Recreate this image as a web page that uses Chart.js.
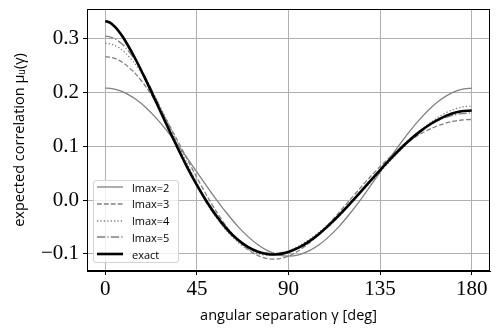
<!DOCTYPE html>
<html lang="en">
<head>
<meta charset="UTF-8" />
<title>Expected correlation vs angular separation</title>
<script src="https://cdn.jsdelivr.net/npm/chart.js"></script>
<style>
  html, body { margin: 0; padding: 0; background: #fff; }
  #wrap { position: relative; width: 499px; height: 332px; }
  #legend {
    position: absolute; left: 93px; top: 180px; width: 86px; height: 83px;
    box-sizing: border-box; border: 1px solid #d4d4d4; border-radius: 3px;
    background: rgba(255,255,255,0.8);
    font-family: "Open Sans", sans-serif; font-size: 11px; color: #000;
  }
  .row { position: absolute; left: 0; height: 16px; display: flex; align-items: center; white-space: nowrap; }
  .row svg { margin-left: 3px; }
  .row span { margin-left: 9px; }
</style>
</head>
<body>
<div id="wrap">
  <canvas id="chart" width="499" height="332"></canvas>
  <div id="legend"></div>
</div>
<script>
// angular separation (deg)
const gammaDeg = [0,2.5,5,7.5,10,15,20,25,30,35,40,45,50,55,60,65,70,75,80,85,90,
  95,100,105,110,115,120,125,130,135,140,145,150,155,160,165,170,175,180];

const lmax2 = [0.2083,0.2077,0.2060,0.2030,0.1989,0.1874,0.1718,0.1525,0.1302,0.1055,0.0792,0.0521,0.0250,-0.0014,-0.0260,-0.0484,-0.0676,-0.0832,-0.0947,-0.1018,-0.1042,
  -0.1018,-0.0947,-0.0832,-0.0676,-0.0484,-0.0260,-0.0014,0.0250,0.0521,0.0792,0.1055,0.1302,0.1525,0.1718,0.1874,0.1989,0.2060,0.2083];
const lmax3 = [0.2667,0.2657,0.2630,0.2584,0.2520,0.2343,0.2106,0.1818,0.1492,0.1140,0.0777,0.0418,0.0074,-0.0240,-0.0516,-0.0743,-0.0917,-0.1034,-0.1092,-0.1093,-0.1042,
  -0.0943,-0.0803,-0.0631,-0.0435,-0.0224,-0.0005,0.0213,0.0425,0.0624,0.0807,0.0970,0.1113,0.1233,0.1330,0.1405,0.1458,0.1490,0.1500];
const lmax4 = [0.2917,0.2905,0.2870,0.2813,0.2734,0.2514,0.2224,0.1879,0.1497,0.1097,0.0698,0.0316,-0.0033,-0.0337,-0.0588,-0.0782,-0.0918,-0.0998,-0.1025,-0.1007,-0.0948,
  -0.0856,-0.0737,-0.0595,-0.0436,-0.0263,-0.0077,0.0117,0.0318,0.0522,0.0727,0.0928,0.1119,0.1294,0.1449,0.1576,0.1671,0.1730,0.1750];
const lmax5 = [0.3048,0.3034,0.2994,0.2927,0.2836,0.2586,0.2260,0.1880,0.1468,0.1049,0.0643,0.0267,-0.0066,-0.0348,-0.0576,-0.0751,-0.0875,-0.0953,-0.0988,-0.0986,-0.0948,
  -0.0877,-0.0773,-0.0640,-0.0479,-0.0294,-0.0089,0.0128,0.0351,0.0572,0.0782,0.0976,0.1148,0.1294,0.1413,0.1504,0.1569,0.1607,0.1619];
const exact = [0.3333,0.3296,0.3211,0.3093,0.2950,0.2611,0.2227,0.1821,0.1411,0.1010,0.0628,0.0276,-0.0041,-0.0317,-0.0549,-0.0735,-0.0872,-0.0963,-0.1007,-0.1007,-0.0966,
  -0.0886,-0.0773,-0.0630,-0.0462,-0.0275,-0.0074,0.0135,0.0348,0.0559,0.0763,0.0955,0.1131,0.1287,0.1420,0.1526,0.1604,0.1651,0.1667];

const seriesLabels = ['lmax=2', 'lmax=3', 'lmax=4', 'lmax=5', 'exact'];

const xTicks = [0, 45, 90, 135, 180];
const xTickLabels = ['0', '45', '90', '135', '180'];
const yTicks = [-0.1, 0, 0.1, 0.2, 0.3];
const yTickLabels = ['\u22120.1', '0.0', '0.1', '0.2', '0.3'];

// line styles
const styles = [
  { color: '#808080', width: 1.3, dash: [] },
  { color: '#808080', width: 1.3, dash: [4.8, 2.1] },
  { color: '#808080', width: 1.3, dash: [1.3, 2.1] },
  { color: '#808080', width: 1.3, dash: [8.3, 2.1, 1.3, 2.1] },
  { color: '#000000', width: 2.6, dash: [] }
];

const allSeries = [lmax2, lmax3, lmax4, lmax5, exact];

const datasets = allSeries.map((vals, i) => ({
  label: seriesLabels[i],
  data: gammaDeg.map((g, k) => ({ x: g, y: vals[k] })),
  borderColor: styles[i].color,
  borderWidth: styles[i].width,
  borderDash: styles[i].dash,
  order: i === 4 ? 0 : 5 - i,
  fill: false
}));

const frame = {
  id: 'frame',
  afterDraw(c) {
    const { ctx, chartArea: a } = c;
    ctx.save();
    ctx.strokeStyle = '#000';
    ctx.lineWidth = 1;
    const l = Math.round(a.left) + 0.5, t = Math.round(a.top) + 0.5;
    const r = Math.round(a.right) - 0.5, b = Math.round(a.bottom) - 0.5;
    ctx.strokeRect(l, t, r - l, b - t);
    ctx.restore();
  }
};

const tickFont = { family: '"Liberation Serif", serif', size: 21 };
const titleFont = { family: '"Open Sans", sans-serif', size: 14.5 };

new Chart(document.getElementById('chart').getContext('2d'), {
  type: 'line',
  data: { datasets },
  plugins: [frame],
  options: {
    responsive: false,
    animation: false,
    layout: { padding: { left: 0, top: 9, right: 9, bottom: 0 } },
    plugins: { legend: { display: false }, tooltip: { enabled: false } },
    elements: { point: { radius: 0 }, line: { tension: 0.3 } },
    scales: {
      x: {
        type: 'linear', min: -9, max: 189,
        afterFit: s => { s.height = 61; s.paddingLeft = 0; s.paddingRight = 0; },
        afterBuildTicks: s => { s.ticks = xTicks.map(v => ({ value: v })); },
        ticks: { font: tickFont, color: '#000', padding: 2, maxRotation: 0,
                 callback: (v, i) => xTickLabels[i] },
        grid: { color: '#b0b0b0', tickColor: '#000', tickLength: 4, lineWidth: 1 },
        border: { display: true, color: '#000' },
        title: { display: true, text: 'angular separation \u03b3 [deg]', font: titleFont,
                 color: '#000', padding: { top: 0, bottom: 7 } }
      },
      y: {
        type: 'linear', min: -0.132, max: 0.3555,
        afterFit: s => { s.width = 87; s.paddingTop = 0; s.paddingBottom = 0; },
        afterBuildTicks: s => { s.ticks = yTicks.map(v => ({ value: v })); },
        ticks: { font: tickFont, color: '#000', padding: 4,
                 callback: (v, i) => yTickLabels[i] },
        grid: { color: '#b0b0b0', tickColor: '#000', tickLength: 4, lineWidth: 1 },
        border: { display: true, color: '#000' },
        title: { display: true, text: 'expected correlation \u03bc\u1d64(\u03b3)', font: titleFont,
                 color: '#000', padding: { top: 11, bottom: 0 } }
      }
    }
  }
});

// legend inside the plot, built from the same labels and styles
const legend = document.getElementById('legend');
seriesLabels.forEach((lab, i) => {
  const row = document.createElement('div');
  row.className = 'row';
  row.style.top = (6 + 16.8 * i - 8) + 'px';
  const st = styles[i];
  row.innerHTML =
    '<svg width="26" height="16"><line x1="0" y1="8" x2="26" y2="8" stroke="' + st.color +
    '" stroke-width="' + st.width + '" stroke-dasharray="' + (st.dash.length ? st.dash.join(',') : 'none') +
    '"/></svg><span>' + lab + '</span>';
  legend.appendChild(row);
});
</script>
</body>
</html>
